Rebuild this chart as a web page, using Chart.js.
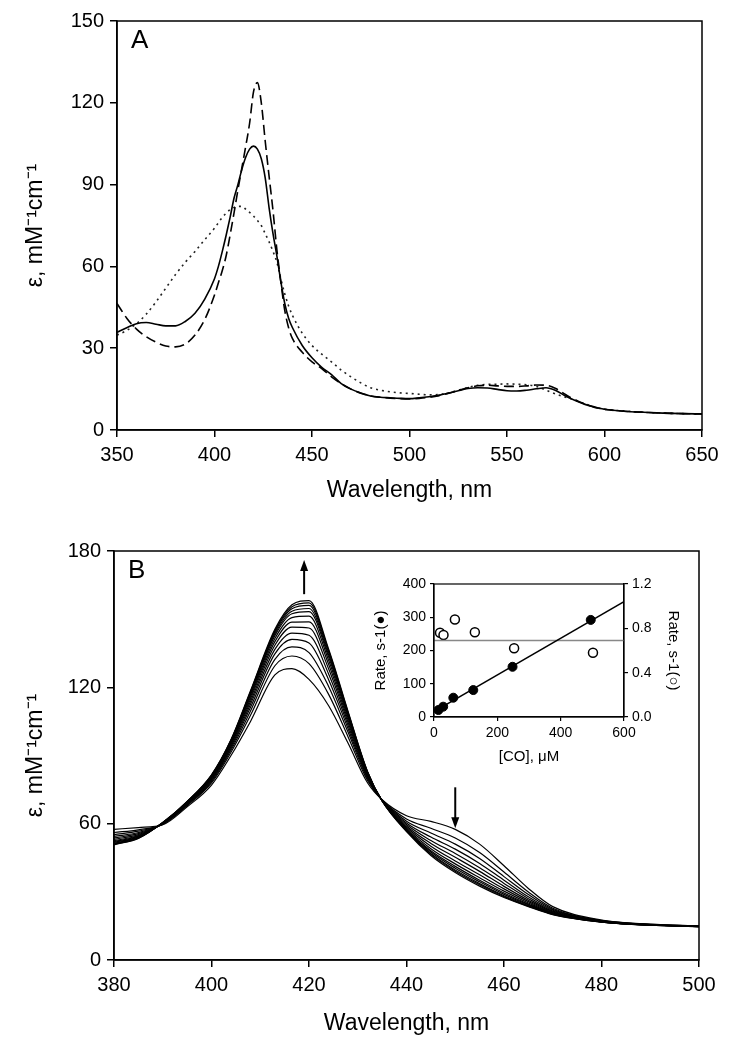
<!DOCTYPE html>
<html>
<head>
<meta charset="utf-8">
<script src="https://cdn.jsdelivr.net/npm/chart.js@4.4.1/dist/chart.umd.min.js"></script>
<style>
body { margin: 0; background: #fff; }
canvas { position: absolute; }
</style>
</head>
<body>
<canvas id="chartA" width="738" height="520" style="left:0;top:0"></canvas>
<canvas id="chartB" width="738" height="525" style="left:0;top:525px"></canvas>
<canvas id="inset" width="330" height="210" style="left:365px;top:565px"></canvas>
<script>
// ---- panel A: three spectra ----
const wavelengthA = [350,355,360,365,370,375,380,385,390,395,400,
  402,404,406,408,410,412,414,416,418,420,422,424,426,428,430,432,434,436,438,440,
  445,450,455,460,465,470,475,480,485,490,495,500,505,510,515,520,525,530,535,540,
  545,550,555,560,565,570,575,580,585,590,595,600,610,620,630,640,650];
const solidA = [35.8,37.5,39,39.4,38.8,38.2,38.2,39.8,42.8,48,55.5,
  60,65.5,71.5,78,85,90,95.5,100,103,104.1,103,99.5,92.5,81.5,72,63.8,54.5,46.5,41,37.5,
  31,26.5,23,20.3,17,15,13.6,12.5,12,11.8,11.6,11.5,11.8,12.2,12.7,13.5,14.4,15.2,15.5,15.4,
  14.9,14.4,14.3,14.6,15.1,15.5,14.5,12.5,10.8,9.4,8.4,7.6,6.9,6.5,6.2,6.0,5.9];
const dashedA = [46.4,41,37,34.2,32.2,30.8,30.5,31.5,34.8,40.5,49.5,
  54,58.5,64,71.5,79.5,88,96,104,112.5,124,127.4,120,106,93,80.5,66,54.4,44,37.5,33.5,
  28.5,25,22.5,19.5,17,15,13.5,12.5,12,11.7,11.5,11.4,11.6,12,12.6,13.5,14.5,15.5,16.2,16.4,
  16.2,16,16,16.2,16.5,16.4,15.2,13,11,9.5,8.3,7.6,6.9,6.5,6.2,6.0,5.9];
const dottedA = [34.8,36.5,39,42.5,47,52,57,61.5,65.5,69.8,74,
  76,78,79.5,80.8,81.6,82,82,81,79.8,78.5,76.8,75,72,69,65.5,61.5,55.5,50,45.5,42,
  35.5,31,27.8,25,22,19.5,17.3,15.5,14.6,14,13.6,13.4,13.1,12.9,13,13.6,14.6,15.6,16.4,16.7,
  16.8,16.9,16.8,16.6,16,14.6,13.2,12,11,9.6,8.4,7.6,7.0,6.5,6.2,6.0,5.9];

// ---- panel B: spectra recorded during CO binding ----
const wavelengthB = [380,385,390,395,400,404,408,413,416.5,420,424,428,432,435,440,445,450,455,460,465,470,480,490,500];
const scan01 = [57.5,58.3,59.5,67.4,77,90,105,125.5,128.2,123.5,112,95.5,78,70.5,63.5,61,57.5,51,41.5,31.5,23.5,17.6,15.8,15.0];
const scan02 = [56.1,57.3,59.7,67.9,77.9,91.4,107.7,129.5,133.8,130.4,117,98.3,79,70.4,62.1,58,53.7,47.3,38.7,29.9,22.8,17.4,15.7,14.9];
const scan03 = [55.2,56.7,59.8,68.2,78.5,92.4,109.6,132.3,137.8,135.3,120.5,100.3,79.7,70.3,61.1,55.9,51.0,44.7,36.7,28.8,22.3,17.3,15.6,14.9];
const scan04 = [54.4,56.1,60.0,68.5,79.1,93.2,111.2,134.7,141.1,139.5,123.5,101.9,80.3,70.3,60.3,54.1,48.8,42.5,35.1,27.8,21.9,17.2,15.6,14.9];
const scan05 = [53.7,55.6,60.1,68.7,79.5,93.9,112.6,136.7,143.9,142.9,126,103.3,80.8,70.2,59.6,52.6,46.9,40.6,33.7,27.0,21.5,17.1,15.5,14.8];
const scan06 = [53.1,55.2,60.2,69.0,79.9,94.6,113.8,138.5,146.5,146.1,128.3,104.6,81.3,70.2,59.0,51.3,45.2,39.0,32.4,26.3,21.2,17.0,15.5,14.8];
const scan07 = [52.5,54.8,60.2,69.2,80.3,95.1,114.9,140.1,148.7,148.8,130.3,105.7,81.7,70.1,58.4,50.1,43.6,37.5,31.3,25.7,20.9,16.9,15.4,14.8];
const scan08 = [52.1,54.5,60.3,69.3,80.6,95.6,115.8,141.5,150.7,151.3,132,106.7,82,70.1,57.9,49,42.3,36.2,30.3,25.1,20.7,16.9,15.4,14.8];
const scan09 = [51.7,54.2,60.4,69.5,80.9,96.0,116.6,142.7,152.4,153.3,133.5,107.5,82.3,70.1,57.5,48.1,41.2,35.1,29.5,24.6,20.5,16.8,15.4,14.7];
const scan10 = [51.4,54.0,60.4,69.6,81.1,96.3,117.2,143.5,153.5,154.7,134.5,108.1,82.5,70.1,57.2,47.5,40.4,34.4,28.9,24.3,20.4,16.8,15.4,14.7];
const scan11 = [51.1,53.8,60.4,69.7,81.2,96.6,117.7,144.3,154.6,156.1,135.5,108.7,82.7,70.0,56.9,46.9,39.6,33.6,28.3,24.0,20.2,16.8,15.3,14.7];
const scan12 = [50.9,53.6,60.5,69.7,81.4,96.8,118.1,144.9,155.5,157.2,136.3,109.1,82.9,70.0,56.7,46.5,39.1,33.1,27.9,23.7,20.1,16.7,15.3,14.7];
const scan13 = [50.7,53.5,60.5,69.8,81.5,97,118.5,145.5,156.3,158.2,137,109.5,83,70,56.5,46,38.5,32.5,27.5,23.5,20,16.7,15.3,14.7];
const scansB = [scan01,scan02,scan03,scan04,scan05,scan06,scan07,scan08,scan09,scan10,scan11,scan12,scan13];
// arrows showing the direction of change (wavelength, from, to)
const arrowX = [419, 450];
const arrowFrom = [161, 76];
const arrowTo = [176, 58];

// ---- inset: rates vs [CO] ----
const coFast = [14, 29, 61, 124, 248, 495];
const rateFast = [21, 31, 58, 81, 151, 292];
const coSlow = [19, 30, 66, 129, 253, 502];
const rateSlow = [0.76, 0.74, 0.88, 0.765, 0.62, 0.58];
const fitX = [0, 600];
const fitFast = [16, 347];
const meanSlow = [0.69, 0.69];

const FONT = '"Liberation Sans", Arial, Helvetica, sans-serif';
Chart.defaults.font.family = FONT;
Chart.defaults.color = '#000';

function pts(xs, ys) { return xs.map((x, i) => ({x: x, y: ys[i]})); }

const framePlugin = {
  id: 'frame',
  afterDatasetsDraw(chart, args, opts) {
    const {ctx, chartArea: a} = chart;
    ctx.save();
    ctx.strokeStyle = '#000';
    ctx.lineWidth = opts.width || 1.5;
    ctx.strokeRect(a.left, a.top, a.right - a.left, a.bottom - a.top);
    if (opts.letter) {
      ctx.fillStyle = '#000';
      ctx.font = '26px ' + FONT;
      ctx.textBaseline = 'top';
      ctx.fillText(opts.letter, a.left + 14, a.top + 7);
    }
    if (opts.arrows) {
      const xs = chart.scales.x, ys = chart.scales.y;
      ctx.lineWidth = 2;
      ctx.fillStyle = '#000';
      arrowX.forEach((w, i) => {
        const x = xs.getPixelForValue(w);
        const y0 = ys.getPixelForValue(arrowFrom[i]);
        const y1 = ys.getPixelForValue(arrowTo[i]);
        const dir = y1 < y0 ? 1 : -1;
        ctx.beginPath();
        ctx.moveTo(x, y0);
        ctx.lineTo(x, y1 + dir * 6);
        ctx.stroke();
        ctx.beginPath();
        ctx.moveTo(x, y1);
        ctx.lineTo(x - 4, y1 + dir * 11);
        ctx.lineTo(x + 4, y1 + dir * 11);
        ctx.closePath();
        ctx.fill();
      });
    }
    ctx.restore();
  }
};

function axis(min, max, step, tickSize, titleText, titleSize, extra) {
  return Object.assign({
    type: 'linear', min: min, max: max,
    ticks: {stepSize: step, font: {size: tickSize}, color: '#000', padding: 6},
    grid: {drawOnChartArea: false, tickLength: 7, color: '#000', lineWidth: 1.5},
    border: {color: '#000', width: 1.5},
    title: {display: true, text: titleText, font: {size: titleSize}, color: '#000'}
  }, extra || {});
}

// panel A
new Chart(document.getElementById('chartA'), {
  type: 'line',
  data: {
    datasets: [
      {data: pts(wavelengthA, solidA), borderColor: '#000', borderWidth: 1.6, pointRadius: 0, cubicInterpolationMode: 'monotone'},
      {data: pts(wavelengthA, dashedA), borderColor: '#000', borderWidth: 1.6, borderDash: [10, 5], pointRadius: 0, cubicInterpolationMode: 'monotone'},
      {data: pts(wavelengthA, dottedA), borderColor: '#222', borderWidth: 1.6, borderDash: [2, 4], pointRadius: 0, cubicInterpolationMode: 'monotone'}
    ]
  },
  options: {
    responsive: false, animation: false,
    layout: {padding: {top: 21, right: 36, left: 0, bottom: 0}},
    plugins: {legend: {display: false}, tooltip: {enabled: false}, frame: {letter: 'A'}},
    scales: {
      x: axis(350, 650, 50, 20, 'Wavelength, nm', 23, {afterFit: s => { s.height = 90; }}),
      y: axis(0, 150, 30, 20, 'ε, mM⁻¹cm⁻¹', 23, {afterFit: s => { s.width = 117; }})
    }
  },
  plugins: [framePlugin]
});

// panel B
new Chart(document.getElementById('chartB'), {
  type: 'line',
  data: {
    datasets: scansB.map(s => ({
      data: pts(wavelengthB, s), borderColor: '#000', borderWidth: 1.2, pointRadius: 0, cubicInterpolationMode: 'monotone'
    }))
  },
  options: {
    responsive: false, animation: false,
    layout: {padding: {top: 26, right: 39, left: 0, bottom: 0}},
    plugins: {legend: {display: false}, tooltip: {enabled: false}, frame: {letter: 'B', arrows: true}},
    scales: {
      x: axis(380, 500, 20, 20, 'Wavelength, nm', 23, {afterFit: s => { s.height = 90; }}),
      y: axis(0, 180, 60, 20, 'ε, mM⁻¹cm⁻¹', 23, {afterFit: s => { s.width = 114; }})
    }
  },
  plugins: [framePlugin]
});
// title paddings
Chart.getChart('chartA').options.scales.x.title.padding = {top: 0, bottom: 16};
Chart.getChart('chartA').options.scales.y.title.padding = {top: 22, bottom: 0};
Chart.getChart('chartB').options.scales.x.title.padding = {top: 0, bottom: 13};
Chart.getChart('chartB').options.scales.y.title.padding = {top: 22, bottom: 0};
Chart.getChart('chartA').update();
Chart.getChart('chartB').update();

// inset
const small = {tickLength: 4};
new Chart(document.getElementById('inset'), {
  type: 'line',
  data: {
    datasets: [
      {data: pts(fitX, fitFast), yAxisID: 'y', borderColor: '#000', borderWidth: 1.5, pointRadius: 0, tension: 0},
      {data: pts(fitX, meanSlow), yAxisID: 'y2', borderColor: '#888', borderWidth: 1.5, pointRadius: 0, tension: 0},
      {data: pts(coFast, rateFast), yAxisID: 'y', showLine: false, pointRadius: 4.5, pointBackgroundColor: '#000', pointBorderColor: '#000', pointBorderWidth: 1},
      {data: pts(coSlow, rateSlow), yAxisID: 'y2', showLine: false, pointRadius: 4.5, pointBackgroundColor: '#fff', pointBorderColor: '#000', pointBorderWidth: 1.5}
    ]
  },
  options: {
    responsive: false, animation: false,
    layout: {padding: {top: 19, right: 0, left: 0, bottom: 0}},
    plugins: {legend: {display: false}, tooltip: {enabled: false}, frame: {width: 1.2}},
    scales: {
      x: axis(0, 600, 200, 14, '[CO], μM', 15, {afterFit: s => { s.height = 58; }}),
      y: axis(0, 400, 100, 14, 'Rate, s-1(●)', 15, {position: 'left', afterFit: s => { s.width = 69; }}),
      y2: axis(0, 1.2, 0.4, 14, 'Rate, s-1(○)', 15, {position: 'right', afterFit: s => { s.width = 71; }})
    }
  },
  plugins: [framePlugin]
});
const ins = Chart.getChart('inset');
['x', 'y', 'y2'].forEach(k => {
  ins.options.scales[k].grid.tickLength = small.tickLength;
  ins.options.scales[k].grid.lineWidth = 1.2;
  ins.options.scales[k].border.width = 1.2;
  ins.options.scales[k].ticks.padding = 4;
});
ins.options.scales.y2.ticks.callback = v => v.toFixed(1);
ins.options.scales.x.title.padding = {top: 0, bottom: 9};
ins.options.scales.y.title.padding = {top: 7, bottom: 0};
ins.options.scales.y2.title.padding = {top: 13, bottom: 0};
ins.update();
</script>
</body>
</html>
